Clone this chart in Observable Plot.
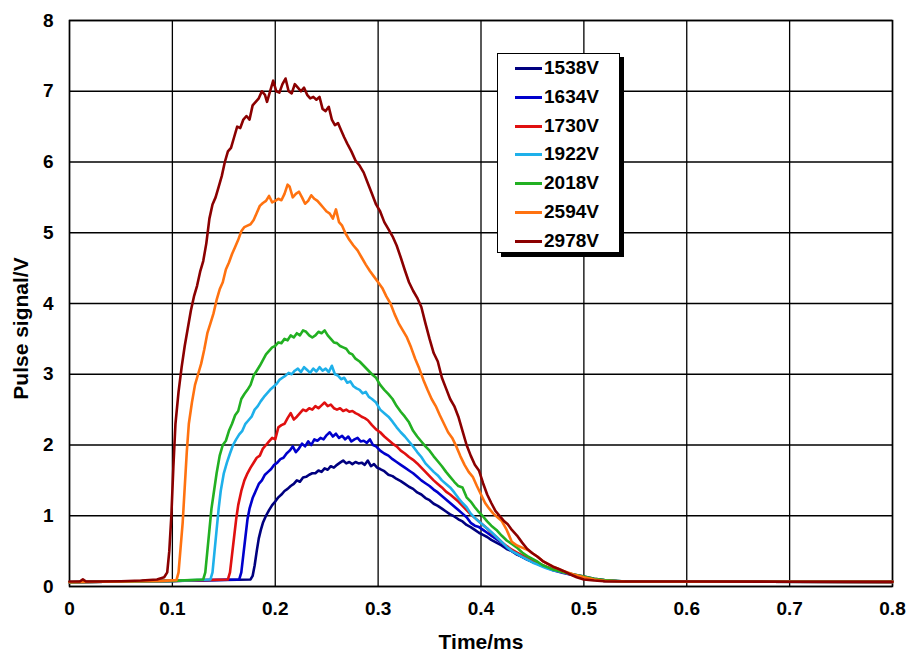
<!DOCTYPE html>
<html>
<head>
<meta charset="utf-8">
<script src="https://cdn.jsdelivr.net/npm/d3@7"></script>
<script src="https://cdn.jsdelivr.net/npm/@observablehq/plot@0.6"></script>
<style>
  html, body { margin: 0; padding: 0; background: #fff; }
  #wrap { position: relative; width: 907px; height: 658px; }
  #legend {
    position: absolute; left: 497px; top: 53px; width: 121px; height: 198px;
    border: 1.5px solid #000; background: #fff; box-shadow: 4px 4px 0 #000;
    font-family: "Liberation Sans", Arial, sans-serif; font-weight: bold; font-size: 19px;
  }
  .row { position: absolute; left: 0; height: 20px; display: flex; align-items: center; }
  .sw { width: 27px; height: 3px; margin-left: 17px; margin-right: 2px; }
</style>
</head>
<body>
<div id="wrap"><div id="legend"></div></div>
<script>
const seriesNames = ["1538V", "1634V", "1730V", "1922V", "2018V", "2594V", "2978V"];
const seriesColors = ["#00007f", "#0000cc", "#e01010", "#1eb0ea", "#22b022", "#ff7210", "#8b0000"];
const xTicks = [0, 0.1, 0.2, 0.3, 0.4, 0.5, 0.6, 0.7, 0.8];
const yTicks = [0, 1, 2, 3, 4, 5, 6, 7, 8];

const s1538 = [[0,0.06],[0.05,0.07],[0.1,0.08],[0.176,0.1],[0.178,0.15],[0.18,0.3],[0.182,0.5],[0.184,0.68],[0.186,0.8],[0.188,0.9],[0.191,1.0],[0.194,1.08],[0.197,1.15],[0.2,1.2],[0.203,1.26],[0.206,1.3],[0.209,1.35],[0.212,1.38],[0.215,1.42],[0.218,1.45],[0.221,1.5],[0.224,1.48],[0.227,1.54],[0.23,1.55],[0.233,1.58],[0.236,1.6],[0.239,1.6],[0.242,1.64],[0.245,1.62],[0.248,1.67],[0.251,1.65],[0.254,1.7],[0.257,1.68],[0.26,1.72],[0.263,1.75],[0.266,1.78],[0.269,1.74],[0.272,1.76],[0.275,1.73],[0.278,1.76],[0.281,1.74],[0.284,1.75],[0.287,1.72],[0.29,1.78],[0.293,1.7],[0.296,1.73],[0.299,1.68],[0.302,1.66],[0.306,1.63],[0.31,1.58],[0.314,1.56],[0.318,1.52],[0.322,1.49],[0.326,1.45],[0.33,1.41],[0.334,1.38],[0.338,1.33],[0.342,1.3],[0.346,1.25],[0.35,1.22],[0.354,1.17],[0.358,1.14],[0.362,1.1],[0.366,1.06],[0.37,1.02],[0.374,0.99],[0.378,0.95],[0.382,0.92],[0.386,0.87],[0.39,0.84],[0.394,0.8],[0.398,0.76],[0.402,0.73],[0.406,0.7],[0.41,0.66],[0.415,0.62],[0.42,0.58],[0.425,0.53],[0.43,0.5],[0.435,0.45],[0.44,0.42],[0.445,0.38],[0.45,0.35],[0.455,0.32],[0.46,0.29],[0.465,0.27],[0.47,0.24],[0.48,0.2],[0.49,0.17],[0.5,0.14],[0.51,0.11],[0.52,0.09],[0.54,0.07],[0.8,0.066]];
const s1634 = [[0,0.06],[0.05,0.07],[0.1,0.08],[0.165,0.1],[0.167,0.2],[0.169,0.45],[0.171,0.7],[0.173,0.95],[0.175,1.1],[0.178,1.25],[0.181,1.35],[0.184,1.45],[0.187,1.5],[0.19,1.58],[0.193,1.62],[0.196,1.66],[0.199,1.72],[0.202,1.75],[0.205,1.8],[0.208,1.82],[0.211,1.88],[0.214,1.92],[0.217,1.98],[0.22,1.9],[0.223,1.95],[0.226,2.02],[0.229,1.98],[0.232,2.05],[0.235,2.0],[0.238,2.08],[0.241,2.06],[0.244,2.1],[0.247,2.08],[0.25,2.14],[0.253,2.18],[0.256,2.12],[0.259,2.16],[0.262,2.1],[0.265,2.13],[0.268,2.08],[0.271,2.12],[0.274,2.05],[0.277,2.08],[0.28,2.1],[0.283,2.05],[0.286,2.06],[0.289,2.03],[0.292,2.08],[0.295,2.0],[0.298,1.98],[0.302,1.92],[0.306,1.88],[0.31,1.85],[0.314,1.8],[0.318,1.76],[0.322,1.72],[0.326,1.68],[0.33,1.64],[0.334,1.6],[0.338,1.55],[0.342,1.5],[0.346,1.46],[0.35,1.42],[0.354,1.37],[0.358,1.33],[0.362,1.28],[0.366,1.23],[0.37,1.18],[0.374,1.13],[0.378,1.08],[0.382,1.03],[0.386,0.98],[0.39,0.9],[0.394,0.86],[0.398,0.84],[0.402,0.8],[0.406,0.76],[0.41,0.72],[0.415,0.67],[0.42,0.62],[0.425,0.56],[0.43,0.5],[0.435,0.46],[0.44,0.42],[0.445,0.38],[0.45,0.35],[0.455,0.32],[0.46,0.29],[0.465,0.26],[0.47,0.23],[0.48,0.19],[0.49,0.16],[0.5,0.13],[0.51,0.1],[0.52,0.08],[0.54,0.07],[0.8,0.066]];
const s1730 = [[0,0.06],[0.05,0.07],[0.1,0.08],[0.154,0.1],[0.156,0.2],[0.158,0.45],[0.16,0.7],[0.162,0.95],[0.164,1.15],[0.167,1.35],[0.17,1.5],[0.173,1.6],[0.176,1.68],[0.179,1.75],[0.182,1.82],[0.185,1.85],[0.188,1.95],[0.191,2.0],[0.194,2.05],[0.197,2.1],[0.2,2.08],[0.203,2.25],[0.206,2.28],[0.209,2.3],[0.212,2.38],[0.215,2.45],[0.218,2.36],[0.221,2.4],[0.224,2.45],[0.227,2.5],[0.23,2.48],[0.233,2.52],[0.236,2.5],[0.239,2.55],[0.242,2.52],[0.245,2.56],[0.248,2.6],[0.251,2.55],[0.254,2.57],[0.257,2.52],[0.26,2.5],[0.263,2.52],[0.266,2.48],[0.269,2.5],[0.272,2.47],[0.275,2.48],[0.278,2.45],[0.281,2.43],[0.284,2.4],[0.287,2.38],[0.29,2.35],[0.294,2.28],[0.298,2.22],[0.302,2.18],[0.306,2.12],[0.31,2.07],[0.314,2.02],[0.318,1.98],[0.322,1.92],[0.326,1.88],[0.33,1.83],[0.334,1.79],[0.338,1.74],[0.342,1.68],[0.346,1.62],[0.35,1.56],[0.354,1.5],[0.358,1.45],[0.362,1.4],[0.366,1.34],[0.37,1.3],[0.374,1.25],[0.378,1.2],[0.382,1.14],[0.386,1.08],[0.39,1.02],[0.394,0.97],[0.398,0.92],[0.402,0.87],[0.406,0.82],[0.41,0.76],[0.415,0.7],[0.42,0.63],[0.425,0.57],[0.43,0.52],[0.435,0.48],[0.44,0.44],[0.445,0.4],[0.45,0.37],[0.455,0.33],[0.46,0.3],[0.465,0.27],[0.47,0.24],[0.48,0.2],[0.49,0.16],[0.5,0.13],[0.51,0.1],[0.52,0.08],[0.54,0.07],[0.8,0.066]];
const s1922 = [[0,0.06],[0.05,0.07],[0.1,0.08],[0.137,0.1],[0.139,0.2],[0.141,0.5],[0.143,0.8],[0.145,1.1],[0.147,1.35],[0.15,1.6],[0.153,1.75],[0.156,1.88],[0.159,2.0],[0.162,2.08],[0.165,2.15],[0.168,2.2],[0.171,2.3],[0.174,2.35],[0.177,2.4],[0.18,2.5],[0.183,2.55],[0.186,2.62],[0.189,2.68],[0.192,2.73],[0.195,2.78],[0.198,2.82],[0.201,2.86],[0.204,2.92],[0.207,2.95],[0.21,2.98],[0.213,3.02],[0.216,3.0],[0.219,3.05],[0.222,3.08],[0.225,3.03],[0.228,3.1],[0.231,3.06],[0.234,3.02],[0.237,3.08],[0.24,3.04],[0.243,3.1],[0.246,3.05],[0.249,3.08],[0.252,3.03],[0.255,3.12],[0.258,3.0],[0.261,2.98],[0.264,2.93],[0.267,2.95],[0.27,2.88],[0.273,2.9],[0.276,2.83],[0.279,2.8],[0.282,2.78],[0.285,2.73],[0.288,2.75],[0.291,2.68],[0.294,2.65],[0.298,2.6],[0.302,2.5],[0.306,2.45],[0.31,2.4],[0.314,2.33],[0.318,2.25],[0.322,2.18],[0.326,2.12],[0.33,2.05],[0.334,1.98],[0.338,1.9],[0.342,1.83],[0.346,1.74],[0.35,1.68],[0.354,1.62],[0.358,1.57],[0.362,1.5],[0.366,1.45],[0.37,1.4],[0.374,1.33],[0.378,1.25],[0.382,1.18],[0.386,1.12],[0.39,1.03],[0.394,0.97],[0.398,0.92],[0.402,0.87],[0.406,0.82],[0.41,0.77],[0.415,0.7],[0.42,0.63],[0.425,0.56],[0.43,0.5],[0.435,0.46],[0.44,0.42],[0.445,0.38],[0.45,0.34],[0.455,0.31],[0.46,0.28],[0.465,0.25],[0.47,0.23],[0.48,0.2],[0.49,0.16],[0.5,0.13],[0.51,0.1],[0.52,0.08],[0.54,0.07],[0.8,0.066]];
const s2018 = [[0,0.06],[0.05,0.07],[0.1,0.08],[0.13,0.1],[0.132,0.2],[0.134,0.5],[0.136,0.8],[0.138,1.1],[0.14,1.3],[0.143,1.6],[0.146,1.85],[0.149,2.0],[0.152,2.06],[0.155,2.2],[0.158,2.3],[0.161,2.42],[0.164,2.48],[0.167,2.65],[0.17,2.72],[0.173,2.78],[0.176,2.85],[0.179,2.98],[0.182,3.05],[0.185,3.12],[0.188,3.2],[0.191,3.28],[0.194,3.33],[0.197,3.38],[0.2,3.4],[0.203,3.45],[0.206,3.44],[0.209,3.5],[0.212,3.48],[0.215,3.55],[0.218,3.52],[0.221,3.58],[0.224,3.55],[0.227,3.62],[0.23,3.6],[0.233,3.55],[0.236,3.52],[0.239,3.55],[0.242,3.6],[0.245,3.58],[0.248,3.62],[0.251,3.55],[0.254,3.5],[0.257,3.45],[0.26,3.44],[0.263,3.4],[0.266,3.38],[0.269,3.36],[0.272,3.3],[0.275,3.28],[0.278,3.22],[0.282,3.18],[0.286,3.12],[0.29,3.06],[0.294,3.0],[0.298,2.95],[0.302,2.85],[0.306,2.78],[0.31,2.72],[0.314,2.65],[0.318,2.55],[0.322,2.47],[0.326,2.4],[0.33,2.32],[0.334,2.2],[0.338,2.12],[0.342,2.05],[0.346,1.98],[0.35,1.92],[0.354,1.84],[0.358,1.77],[0.362,1.7],[0.366,1.62],[0.37,1.55],[0.374,1.48],[0.378,1.42],[0.382,1.4],[0.386,1.26],[0.39,1.2],[0.394,1.12],[0.398,1.05],[0.402,0.99],[0.406,0.92],[0.41,0.86],[0.415,0.8],[0.42,0.72],[0.425,0.65],[0.43,0.6],[0.435,0.55],[0.44,0.48],[0.445,0.43],[0.45,0.39],[0.455,0.35],[0.46,0.3],[0.465,0.27],[0.47,0.24],[0.48,0.2],[0.49,0.17],[0.5,0.14],[0.51,0.11],[0.52,0.09],[0.54,0.07],[0.8,0.066]];
const s2594 = [[0,0.06],[0.05,0.07],[0.09,0.08],[0.104,0.09],[0.106,0.2],[0.108,0.55],[0.11,0.9],[0.112,1.4],[0.114,1.9],[0.116,2.3],[0.119,2.6],[0.122,2.85],[0.125,3.0],[0.128,3.15],[0.131,3.35],[0.134,3.58],[0.137,3.72],[0.14,3.86],[0.143,4.05],[0.146,4.2],[0.149,4.3],[0.152,4.48],[0.155,4.58],[0.158,4.7],[0.161,4.8],[0.164,4.9],[0.167,5.02],[0.17,5.08],[0.173,5.1],[0.176,5.12],[0.179,5.18],[0.182,5.28],[0.185,5.38],[0.188,5.42],[0.191,5.45],[0.194,5.52],[0.197,5.43],[0.2,5.45],[0.203,5.48],[0.206,5.46],[0.209,5.55],[0.212,5.68],[0.214,5.65],[0.217,5.5],[0.22,5.55],[0.223,5.58],[0.226,5.5],[0.229,5.41],[0.232,5.45],[0.235,5.53],[0.238,5.48],[0.241,5.45],[0.244,5.4],[0.247,5.35],[0.25,5.3],[0.253,5.27],[0.256,5.2],[0.259,5.33],[0.262,5.15],[0.265,5.1],[0.268,5.0],[0.272,4.9],[0.276,4.82],[0.28,4.75],[0.284,4.65],[0.288,4.55],[0.292,4.46],[0.296,4.38],[0.3,4.3],[0.304,4.22],[0.308,4.1],[0.312,4.0],[0.316,3.85],[0.32,3.72],[0.324,3.62],[0.328,3.52],[0.332,3.38],[0.336,3.22],[0.34,3.08],[0.344,2.92],[0.348,2.78],[0.352,2.65],[0.356,2.55],[0.36,2.42],[0.364,2.3],[0.368,2.18],[0.372,2.1],[0.376,1.98],[0.38,1.84],[0.384,1.72],[0.388,1.62],[0.392,1.55],[0.396,1.42],[0.4,1.3],[0.404,1.18],[0.408,1.1],[0.412,1.03],[0.416,0.98],[0.42,0.93],[0.425,0.8],[0.43,0.63],[0.435,0.58],[0.44,0.55],[0.445,0.52],[0.45,0.47],[0.455,0.42],[0.46,0.36],[0.465,0.32],[0.47,0.28],[0.475,0.25],[0.48,0.22],[0.49,0.17],[0.5,0.13],[0.51,0.1],[0.52,0.08],[0.54,0.07],[0.8,0.066]];
const s2978 = [[0,0.07],[0.01,0.07],[0.013,0.1],[0.016,0.07],[0.03,0.07],[0.05,0.075],[0.07,0.085],[0.085,0.1],[0.092,0.13],[0.095,0.2],[0.097,0.5],[0.099,1.0],[0.101,1.7],[0.103,2.3],[0.106,2.75],[0.109,3.1],[0.112,3.4],[0.115,3.65],[0.118,3.9],[0.121,4.1],[0.124,4.25],[0.127,4.45],[0.13,4.6],[0.133,4.85],[0.136,5.2],[0.139,5.4],[0.142,5.5],[0.145,5.65],[0.148,5.8],[0.151,6.0],[0.154,6.15],[0.157,6.2],[0.16,6.35],[0.163,6.5],[0.166,6.48],[0.169,6.6],[0.172,6.65],[0.175,6.6],[0.178,6.8],[0.181,6.85],[0.184,6.9],[0.187,7.0],[0.19,6.95],[0.192,6.85],[0.195,7.0],[0.198,7.15],[0.201,7.0],[0.204,6.98],[0.207,7.1],[0.21,7.18],[0.213,7.0],[0.216,6.97],[0.219,7.1],[0.222,7.05],[0.225,7.0],[0.228,7.05],[0.231,6.95],[0.234,6.9],[0.237,6.92],[0.24,6.88],[0.243,6.92],[0.246,6.75],[0.249,6.72],[0.252,6.78],[0.255,6.6],[0.258,6.52],[0.261,6.55],[0.264,6.45],[0.267,6.35],[0.27,6.26],[0.274,6.15],[0.278,6.02],[0.282,5.95],[0.286,5.85],[0.29,5.7],[0.294,5.55],[0.298,5.4],[0.302,5.3],[0.306,5.15],[0.31,5.05],[0.314,4.95],[0.318,4.82],[0.322,4.65],[0.326,4.47],[0.33,4.3],[0.334,4.18],[0.338,4.08],[0.342,3.95],[0.346,3.72],[0.35,3.5],[0.354,3.3],[0.358,3.18],[0.362,2.95],[0.366,2.8],[0.37,2.65],[0.374,2.55],[0.378,2.4],[0.382,2.2],[0.386,2.0],[0.39,1.85],[0.394,1.72],[0.398,1.64],[0.402,1.46],[0.406,1.3],[0.41,1.18],[0.414,1.07],[0.418,1.0],[0.422,0.93],[0.426,0.88],[0.43,0.8],[0.435,0.72],[0.44,0.62],[0.445,0.53],[0.45,0.47],[0.455,0.42],[0.46,0.36],[0.465,0.32],[0.47,0.28],[0.475,0.25],[0.48,0.22],[0.487,0.17],[0.493,0.13],[0.5,0.1],[0.51,0.085],[0.52,0.075],[0.54,0.07],[0.6,0.07],[0.7,0.068],[0.8,0.066]];

const allSeries = [s1538, s1634, s1730, s1922, s2018, s2594, s2978];
const rows = allSeries.flatMap((s, i) => s.map(([x, y]) => ({series: seriesNames[i], x, y})));

const font = "'Liberation Sans', Arial, sans-serif";
const chart = Plot.plot({
  width: 907,
  height: 658,
  marginLeft: 69,
  marginRight: 15,
  marginTop: 20,
  marginBottom: 72,
  style: {fontFamily: font, fontSize: "19px", fontWeight: "bold", color: "#000", background: "#fff"},
  x: {domain: [0, 0.8]},
  y: {domain: [0, 8]},
  color: {domain: seriesNames, range: seriesColors},
  marks: [
    Plot.gridX(xTicks, {stroke: "#000", strokeOpacity: 1, strokeWidth: 1.3}),
    Plot.gridY(yTicks, {stroke: "#000", strokeOpacity: 1, strokeWidth: 1.3}),
    Plot.frame({stroke: "#000", strokeWidth: 1.5}),
    Plot.axisX(xTicks, {tickSize: 0, tickPadding: 15, label: null, tickFormat: d => String(d)}),
    Plot.axisY(yTicks, {tickSize: 0, tickPadding: 16, label: null, tickFormat: d => String(d)}),
    Plot.line(rows, {x: "x", y: "y", z: "series", stroke: "series", strokeWidth: 2.6, curve: "linear"}),
    Plot.text(["Time/ms"], {frameAnchor: "bottom", textAnchor: "middle", dy: 62, fontSize: 21, fontWeight: "bold", fill: "#000"}),
    Plot.text(["Pulse signal/V"], {frameAnchor: "left", textAnchor: "middle", dx: -48, dy: 25, rotate: -90, fontSize: 21, fontWeight: "bold", fill: "#000"})
  ]
});
document.getElementById("wrap").prepend(chart);

const legend = document.getElementById("legend");
const rowTops = [4, 33, 62, 90, 119, 148, 177];
seriesNames.forEach((name, i) => {
  const r = document.createElement("div");
  r.className = "row";
  r.style.top = rowTops[i] + "px";
  const sw = document.createElement("span");
  sw.className = "sw";
  sw.style.background = seriesColors[i];
  const t = document.createElement("span");
  t.textContent = name;
  r.appendChild(sw); r.appendChild(t);
  legend.appendChild(r);
});
</script>
</body>
</html>
